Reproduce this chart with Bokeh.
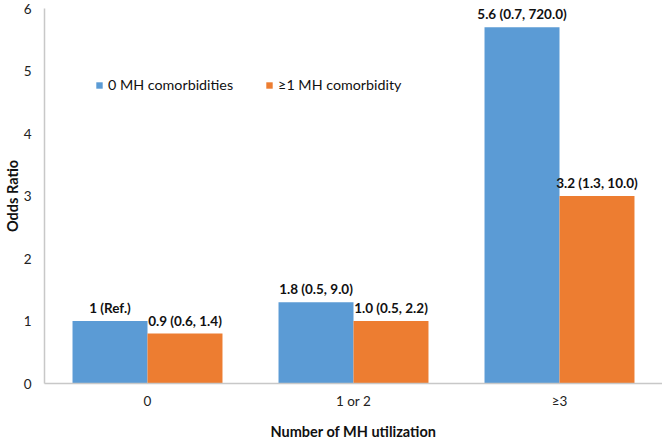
import numpy as np
from bokeh.plotting import figure
from bokeh.models import ColumnDataSource, Range1d, FixedTicker, LabelSet, Legend, LegendItem
from bokeh.core.properties import value
from bokeh.embed import file_html
from bokeh.resources import INLINE

categories = ["0", "1 or 2", "≥3"]
series_names = ["0 MH comorbidities", "≥1 MH comorbidity"]
or_no_comorb = [1.0, 1.3, 5.7]
or_comorb = [0.8, 1.0, 3.0]
labels_no_comorb = ["1 (Ref.)", "1.8 (0.5, 9.0)", "5.6 (0.7, 720.0)"]
labels_comorb = ["0.9 (0.6, 1.4)", "1.0 (0.5, 2.2)", "3.2 (1.3, 10.0)"]
y_ticks = [0, 1, 2, 3, 4, 5, 6]
x_title = "Number of MH utilization"
y_title = "Odds Ratio"

BLUE = "#5B9BD5"
ORANGE = "#ED7D31"
FONT = "Lato"
BW = 0.364

idx = np.arange(len(categories))
src_a = ColumnDataSource(dict(x=idx - BW / 2, top=or_no_comorb, lab=labels_no_comorb))
src_b = ColumnDataSource(dict(x=idx + BW / 2, top=or_comorb, lab=labels_comorb))

p = figure(width=662, height=442, output_backend="svg", toolbar_location=None,
           x_range=Range1d(-0.5, 2.5), y_range=Range1d(0, 6),
           min_border_left=44, min_border_right=0, min_border_top=8, min_border_bottom=58)
p.outline_line_color = None
p.grid.visible = False
p.background_fill_color = "white"
p.border_fill_color = "white"

ra = p.vbar(x="x", top="top", width=BW, source=src_a, fill_color=BLUE, line_color=None)
rb = p.vbar(x="x", top="top", width=BW, source=src_b, fill_color=ORANGE, line_color=None)

for src in (src_a, src_b):
    ls = LabelSet(x="x", y="top", text="lab", source=src, text_align="center",
                  text_baseline="alphabetic", y_offset=8, text_font=value(FONT),
                  text_font_style="bold", text_font_size="13.5px", text_color="#111111")
    p.add_layout(ls)

p.xaxis.ticker = FixedTicker(ticks=list(idx))
p.xaxis.major_label_overrides = {int(i): c for i, c in zip(idx, categories)}
p.yaxis.ticker = FixedTicker(ticks=y_ticks)

for ax in (p.xaxis, p.yaxis):
    ax.axis_line_color = "#C8C8C8"
    ax.axis_line_width = 1.5
    ax.major_tick_line_color = None
    ax.minor_tick_line_color = None
    ax.major_label_text_font = FONT
    ax.major_label_text_font_size = "13.5px"
    ax.major_label_text_color = "#222222"
    ax.major_label_text_line_height = 1.0
    ax.axis_label_text_font = FONT
    ax.axis_label_text_font_style = "bold"
    ax.axis_label_text_font_size = "14.5px"
    ax.axis_label_text_color = "#111111"
    ax.axis_label_text_line_height = 1.0

p.xaxis.axis_label = x_title
p.xaxis.major_label_standoff = 3
p.xaxis.axis_label_standoff = 11
p.yaxis.axis_label = y_title
p.yaxis.major_label_standoff = 7
p.yaxis.axis_label_standoff = 0

legend = Legend(items=[LegendItem(label=series_names[0], renderers=[ra]),
                       LegendItem(label=series_names[1], renderers=[rb])],
                orientation="horizontal", location=(51, 290),
                glyph_width=8, glyph_height=8, label_standoff=5, spacing=32,
                padding=0, margin=0, border_line_color=None, background_fill_alpha=0,
                label_text_font=FONT, label_text_font_size="14.3px", label_text_color="#111111")
p.add_layout(legend)

open("out.html", "w").write(file_html(p, INLINE))
